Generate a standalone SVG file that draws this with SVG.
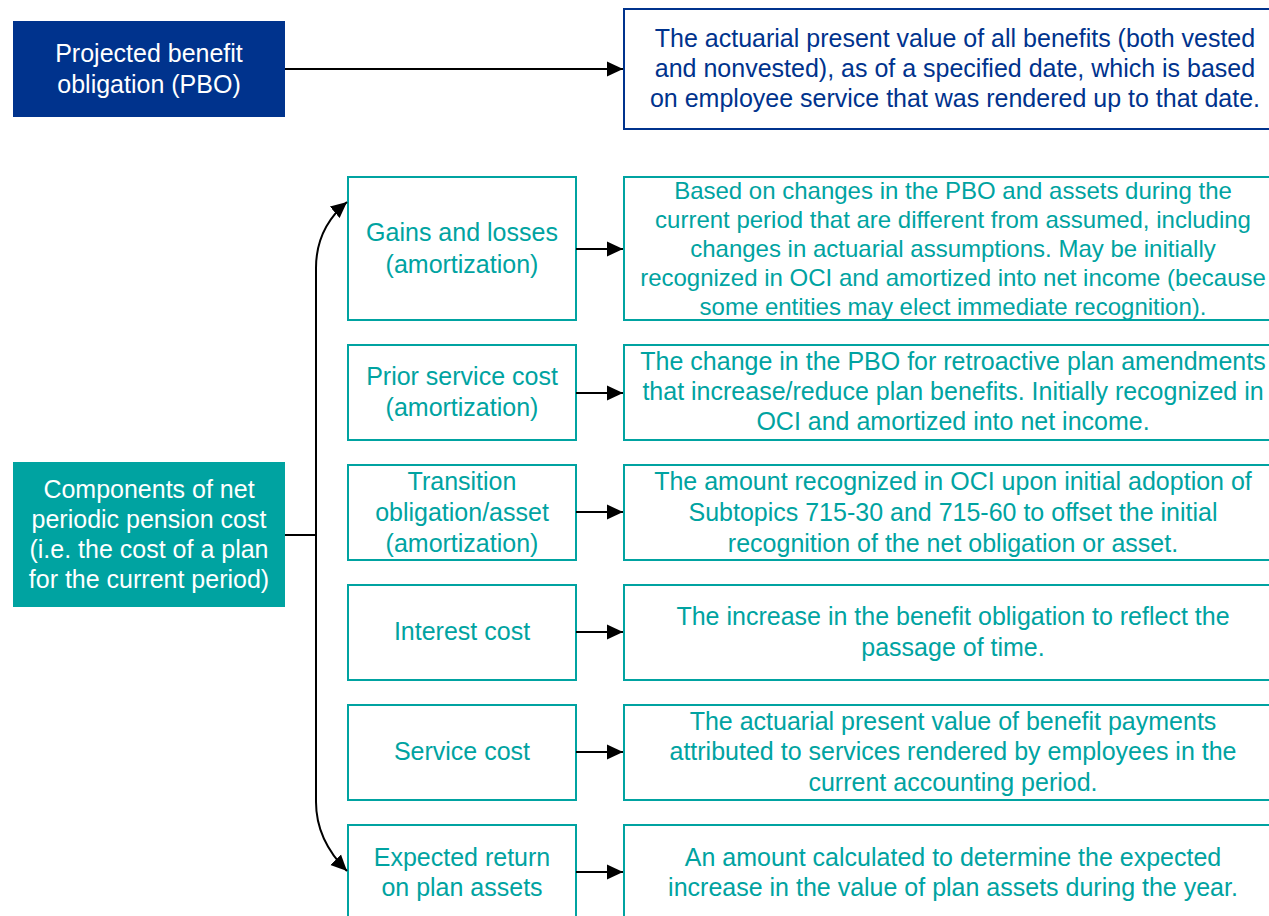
<svg xmlns="http://www.w3.org/2000/svg" width="1269" height="916" viewBox="0 0 1269 916">
<style>
  text { font-family: "Liberation Sans", Arial, sans-serif; font-size: 25px; text-anchor: middle; }
  .wt { fill: #ffffff; }
  .bt { fill: #00338D; }
  .tt { fill: #00A3A1; }
  .sm { font-size: 24px; }
  .tbox { fill: #ffffff; stroke: #00A3A1; stroke-width: 2; }
  .conn { fill: none; stroke: #000000; stroke-width: 2; }
  .arr { marker-end: url(#ah); }
</style>
<defs>
  <marker id="ah" markerWidth="16" markerHeight="16" viewBox="0 0 16 16" refX="16" refY="8" orient="auto" markerUnits="userSpaceOnUse">
    <path d="M0,0.5 L16,8 L0,15.5 Z" fill="#000000"/>
  </marker>
</defs>
<rect width="1269" height="916" fill="#ffffff"/>

<g id="pbo">
  <rect x="13" y="21" width="272" height="96" fill="#00338D"/>
  <text class="wt" x="149" y="62">Projected benefit</text>
  <text class="wt" x="149" y="93">obligation (PBO)</text>
</g>
<g id="pbo-desc">
  <rect x="624" y="9" width="660" height="120" fill="#ffffff" stroke="#00338D" stroke-width="2"/>
  <text class="bt" x="955" y="47">The actuarial present value of all benefits (both vested</text>
  <text class="bt" x="955" y="77">and nonvested), as of a specified date, which is based</text>
  <text class="bt" x="955" y="107">on employee service that was rendered up to that date.</text>
</g>

<g id="components">
  <rect x="13" y="462" width="272" height="145" fill="#00A3A1"/>
  <text class="wt" x="149" y="498">Components of net</text>
  <text class="wt" x="149" y="528">periodic pension cost</text>
  <text class="wt" x="149" y="558">(i.e. the cost of a plan</text>
  <text class="wt" x="149" y="588">for the current period)</text>
</g>

<g id="gains">
  <rect class="tbox" x="348" y="177" width="228" height="143"/>
  <text class="tt" x="462" y="241">Gains and losses</text>
  <text class="tt" x="462" y="273">(amortization)</text>
</g>
<g id="gains-desc">
  <rect class="tbox" x="624" y="177" width="660" height="143"/>
  <text class="tt sm" x="953" y="199">Based on changes in the PBO and assets during the</text>
  <text class="tt sm" x="953" y="228">current period that are different from assumed, including</text>
  <text class="tt sm" x="953" y="257">changes in actuarial assumptions. May be initially</text>
  <text class="tt sm" x="953" y="286">recognized in OCI and amortized into net income (because</text>
  <text class="tt sm" x="953" y="315">some entities may elect immediate recognition).</text>
</g>

<g id="prior">
  <rect class="tbox" x="348" y="345" width="228" height="95"/>
  <text class="tt" x="462" y="385">Prior service cost</text>
  <text class="tt" x="462" y="416">(amortization)</text>
</g>
<g id="prior-desc">
  <rect class="tbox" x="624" y="345" width="660" height="95"/>
  <text class="tt" x="953" y="370">The change in the PBO for retroactive plan amendments</text>
  <text class="tt" x="953" y="400">that increase/reduce plan benefits. Initially recognized in</text>
  <text class="tt" x="953" y="430">OCI and amortized into net income.</text>
</g>

<g id="transition">
  <rect class="tbox" x="348" y="465" width="228" height="95"/>
  <text class="tt" x="462" y="490">Transition</text>
  <text class="tt" x="462" y="521">obligation/asset</text>
  <text class="tt" x="462" y="552">(amortization)</text>
</g>
<g id="transition-desc">
  <rect class="tbox" x="624" y="465" width="660" height="95"/>
  <text class="tt" x="953" y="490">The amount recognized in OCI upon initial adoption of</text>
  <text class="tt" x="953" y="521">Subtopics 715-30 and 715-60 to offset the initial</text>
  <text class="tt" x="953" y="552">recognition of the net obligation or asset.</text>
</g>

<g id="interest">
  <rect class="tbox" x="348" y="585" width="228" height="95"/>
  <text class="tt" x="462" y="640">Interest cost</text>
</g>
<g id="interest-desc">
  <rect class="tbox" x="624" y="585" width="660" height="95"/>
  <text class="tt" x="953" y="625">The increase in the benefit obligation to reflect the</text>
  <text class="tt" x="953" y="656">passage of time.</text>
</g>

<g id="service">
  <rect class="tbox" x="348" y="705" width="228" height="95"/>
  <text class="tt" x="462" y="760">Service cost</text>
</g>
<g id="service-desc">
  <rect class="tbox" x="624" y="705" width="660" height="95"/>
  <text class="tt" x="953" y="730">The actuarial present value of benefit payments</text>
  <text class="tt" x="953" y="760">attributed to services rendered by employees in the</text>
  <text class="tt" x="953" y="791">current accounting period.</text>
</g>

<g id="expected">
  <rect class="tbox" x="348" y="825" width="228" height="110"/>
  <text class="tt" x="462" y="866">Expected return</text>
  <text class="tt" x="462" y="896">on plan assets</text>
</g>
<g id="expected-desc">
  <rect class="tbox" x="624" y="825" width="660" height="110"/>
  <text class="tt" x="953" y="866">An amount calculated to determine the expected</text>
  <text class="tt" x="953" y="896">increase in the value of plan assets during the year.</text>
</g>

<g id="connectors">
  <path class="conn arr" d="M285,69 L623,69"/>
  <path class="conn" d="M285,535 L316,535"/>
  <path class="conn arr" d="M316,535 L316,268 C316,240 328,218 347,202"/>
  <path class="conn arr" d="M316,535 L316,802 C316,830 328,852 347,871"/>
  <path class="conn arr" d="M576,249 L623,249"/>
  <path class="conn arr" d="M576,393 L623,393"/>
  <path class="conn arr" d="M576,512 L623,512"/>
  <path class="conn arr" d="M576,632 L623,632"/>
  <path class="conn arr" d="M576,752 L623,752"/>
  <path class="conn arr" d="M576,872 L623,872"/>
</g>
</svg>
